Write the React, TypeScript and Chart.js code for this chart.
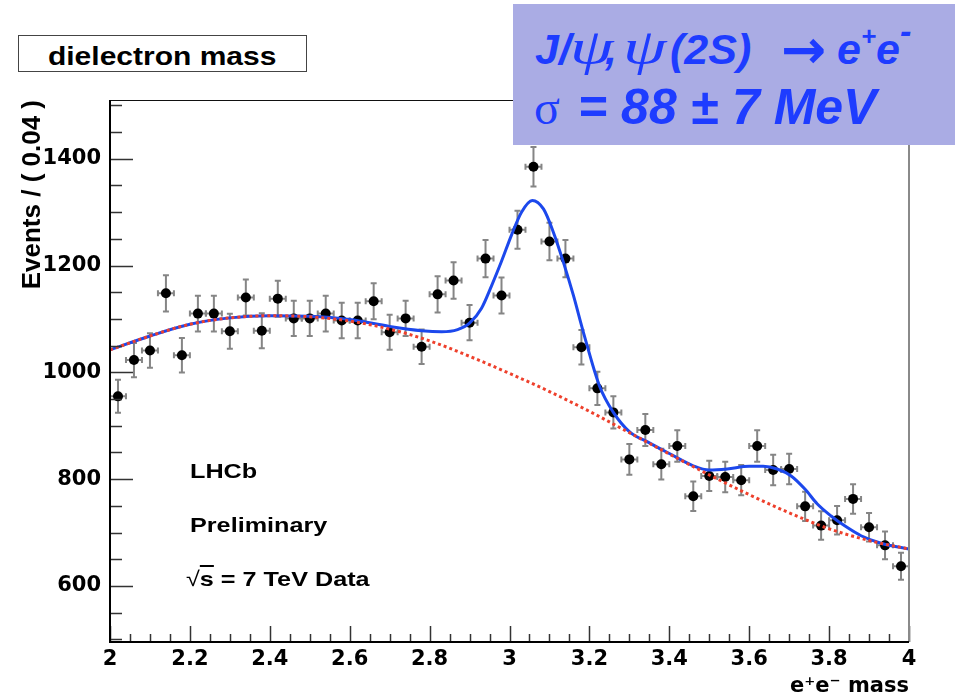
import React, { useEffect, useRef } from "react";
import { Chart, registerables } from "chart.js";

Chart.register(...registerables);

// ---- data ----
const binCenters = [
  2.02, 2.06, 2.1, 2.14, 2.18, 2.22, 2.26, 2.3, 2.34, 2.38,
  2.42, 2.46, 2.5, 2.54, 2.58, 2.62, 2.66, 2.7, 2.74, 2.78,
  2.82, 2.86, 2.9, 2.94, 2.98, 3.02, 3.06, 3.1, 3.14, 3.18,
  3.22, 3.26, 3.3, 3.34, 3.38, 3.42, 3.46, 3.5, 3.54, 3.58,
  3.62, 3.66, 3.7, 3.74, 3.78, 3.82, 3.86, 3.9, 3.94, 3.98,
];
const counts = [
  955, 1023, 1041, 1148, 1032, 1110, 1110, 1077, 1140, 1078,
  1138, 1101, 1101, 1110, 1097, 1097, 1133, 1075, 1101, 1048,
  1146, 1172, 1093, 1213, 1144, 1267, 1385, 1245, 1213, 1047,
  970, 925, 837, 892, 828, 862, 768, 806, 804, 798,
  862, 817, 819, 749, 713, 723, 763, 710, 676, 637,
];
const binHalfWidth = 0.02;

// total fit (signal + background)
const fitX = [
  2.0, 2.1, 2.2, 2.3, 2.4, 2.5, 2.6, 2.7, 2.78, 2.83, 2.87, 2.9,
  2.93, 2.955, 2.98, 3.005, 3.03, 3.057, 3.085, 3.11, 3.135, 3.16, 3.185,
  3.225, 3.26, 3.3, 3.35, 3.4, 3.46, 3.5, 3.545, 3.6, 3.635,
  3.67, 3.705, 3.74, 3.77, 3.805, 3.84, 3.88, 3.93, 4.0,
];
const fitY = [
  1042, 1068, 1090, 1102, 1106, 1105, 1099, 1086, 1078, 1076, 1080, 1092,
  1120, 1162, 1208, 1257, 1300, 1322, 1306, 1262, 1206, 1144, 1075,
  975, 925, 889, 868, 848, 825, 817, 819, 824, 824,
  819, 806, 781, 754, 731, 712, 694, 680, 669,
];

// background component
const bkgX = [
  2.0, 2.1, 2.2, 2.3, 2.4, 2.5, 2.6, 2.7, 2.8, 2.9, 3.0,
  3.1, 3.2, 3.3, 3.4, 3.5, 3.6, 3.7, 3.8, 3.9, 4.0,
];
const bkgY = [
  1042, 1068, 1090, 1102, 1106, 1104, 1096, 1081, 1059, 1030, 998,
  964, 927, 887, 847, 808, 771, 737, 707, 685, 669,
];

const xTickValues = [2, 2.2, 2.4, 2.6, 2.8, 3, 3.2, 3.4, 3.6, 3.8, 4];
const xTickLabels = ["2", "2.2", "2.4", "2.6", "2.8", "3", "3.2", "3.4", "3.6", "3.8", "4"];
const yTickValues = [600, 800, 1000, 1200, 1400];
const yTickLabels = ["600", "800", "1000", "1200", "1400"];

const X_MIN = 2;
const X_MAX = 4;
const Y_MIN = 495;
const Y_MAX = 1510;

const TICK_FONT = { family: "'DejaVu Sans', sans-serif", weight: "bold" as const, size: 21 };

const rootStyle = {
  id: "rootStyle",
  beforeDatasetsDraw(chart: any) {
    const { ctx, scales } = chart;
    const xs = scales.x;
    const ys = scales.y;
    ctx.save();
    ctx.strokeStyle = "#858585";
    ctx.lineWidth = 2;
    const cap = 3;
    for (let i = 0; i < counts.length; i++) {
      const err = Math.sqrt(counts[i]);
      const x = xs.getPixelForValue(binCenters[i]);
      const y = ys.getPixelForValue(counts[i]);
      const yt = ys.getPixelForValue(counts[i] + err);
      const yb = ys.getPixelForValue(counts[i] - err);
      const xl = xs.getPixelForValue(binCenters[i] - binHalfWidth);
      const xr = xs.getPixelForValue(binCenters[i] + binHalfWidth);
      ctx.beginPath();
      ctx.moveTo(x, yt);
      ctx.lineTo(x, yb);
      ctx.moveTo(x - cap, yt);
      ctx.lineTo(x + cap, yt);
      ctx.moveTo(x - cap, yb);
      ctx.lineTo(x + cap, yb);
      ctx.moveTo(xl, y);
      ctx.lineTo(xr, y);
      ctx.moveTo(xl, y - cap);
      ctx.lineTo(xl, y + cap);
      ctx.moveTo(xr, y - cap);
      ctx.lineTo(xr, y + cap);
      ctx.stroke();
    }
    ctx.restore();
  },
  afterDatasetsDraw(chart: any) {
    const { ctx, scales, chartArea } = chart;
    const xs = scales.x;
    const ys = scales.y;
    const { left, right, top, bottom } = chartArea;
    ctx.save();
    // ticks
    ctx.strokeStyle = "#333";
    ctx.lineWidth = 1.5;
    ctx.beginPath();
    for (let k = 0; k <= 40; k++) {
      const v = X_MIN + k * 0.05;
      const px = Math.round(xs.getPixelForValue(v)) + 0.5;
      const len = k % 4 === 0 ? 16 : 8;
      ctx.moveTo(px, bottom);
      ctx.lineTo(px, bottom - len);
    }
    for (let v = 500; v <= 1500; v += 50) {
      const py = Math.round(ys.getPixelForValue(v)) + 0.5;
      const len = v % 200 === 0 && v >= 600 && v <= 1400 ? 23 : 12;
      ctx.moveTo(left, py);
      ctx.lineTo(left + len, py);
    }
    ctx.stroke();
    // frame
    ctx.strokeStyle = "#111";
    ctx.lineWidth = 1.2;
    ctx.beginPath();
    ctx.moveTo(left, top + 0.5);
    ctx.lineTo(right, top + 0.5);
    ctx.stroke();
    ctx.strokeStyle = "#8a8a8a";
    ctx.lineWidth = 2;
    ctx.beginPath();
    ctx.moveTo(right, top);
    ctx.lineTo(right, bottom);
    ctx.stroke();
    ctx.strokeStyle = "#000";
    ctx.lineWidth = 2;
    ctx.beginPath();
    ctx.moveTo(left, top);
    ctx.lineTo(left, bottom);
    ctx.lineTo(right, bottom);
    ctx.stroke();
    ctx.restore();
  },
};

export default function App() {
  const ref = useRef<HTMLCanvasElement>(null);

  useEffect(() => {
    const canvas = ref.current;
    if (!canvas) return;
    const chart = new Chart(canvas, {
      type: "scatter",
      data: {
        datasets: [
          {
            label: "Background",
            type: "line",
            data: bkgX.map((x, i) => ({ x, y: bkgY[i] })),
            borderColor: "rgb(238, 64, 44)",
            borderWidth: 3,
            borderDash: [3, 3],
            pointRadius: 0,
            cubicInterpolationMode: "monotone",
            fill: false,
            order: 0,
          },
          {
            label: "Total fit",
            type: "line",
            data: fitX.map((x, i) => ({ x, y: fitY[i] })),
            borderColor: "rgb(28, 72, 236)",
            borderWidth: 3,
            pointRadius: 0,
            cubicInterpolationMode: "monotone",
            fill: false,
            order: 1,
          },
          {
            label: "Data",
            data: binCenters.map((x, i) => ({ x, y: counts[i] })),
            backgroundColor: "#000",
            borderColor: "#000",
            pointRadius: 5,
            pointBorderWidth: 0,
            showLine: false,
            order: 2,
          },
        ],
      } as any,
      options: {
        animation: false,
        responsive: false,
        maintainAspectRatio: false,
        layout: { padding: { left: 0, right: 46, top: 100, bottom: 0 } },
        plugins: { legend: { display: false }, tooltip: { enabled: false } },
        scales: {
          x: {
            type: "linear",
            min: X_MIN,
            max: X_MAX,
            grid: { display: false, drawTicks: false },
            border: { display: false },
            afterBuildTicks: (axis: any) => {
              axis.ticks = xTickValues.map((v) => ({ value: v }));
            },
            afterFit: (axis: any) => {
              axis.height = 55;
            },
            ticks: {
              autoSkip: false,
              maxRotation: 0,
              padding: 5,
              color: "#000",
              font: TICK_FONT,
              callback: (_v: any, i: number) => xTickLabels[i],
            },
            title: {
              display: true,
              text: "e\u207Ae\u207B mass",
              align: "end",
              color: "#000",
              padding: 0,
              font: { family: "'DejaVu Sans', sans-serif", weight: "bold", size: 21, lineHeight: 1 },
            },
          },
          y: {
            type: "linear",
            min: Y_MIN,
            max: Y_MAX,
            grid: { display: false, drawTicks: false },
            border: { display: false },
            afterBuildTicks: (axis: any) => {
              axis.ticks = yTickValues.map((v) => ({ value: v }));
            },
            afterFit: (axis: any) => {
              axis.width = 110;
            },
            ticks: {
              autoSkip: false,
              padding: 9,
              color: "#000",
              font: TICK_FONT,
              callback: (_v: any, i: number) => yTickLabels[i],
            },
            title: {
              display: true,
              text: "Events / ( 0.04 )",
              align: "end",
              color: "#000",
              padding: { top: 17, bottom: 0 },
              font: { family: "'Liberation Sans', Arial, sans-serif", weight: "bold", size: 26 },
            },
          },
        },
      } as any,
      plugins: [rootStyle],
    });
    return () => chart.destroy();
  }, []);

  const plotText: React.CSSProperties = {
    position: "absolute",
    font: "bold 21px 'Liberation Sans', Arial, sans-serif",
    lineHeight: "21px",
    color: "#000",
    whiteSpace: "nowrap",
    transform: "scaleX(1.2)",
    transformOrigin: "left center",
  };
  const serif = "'Liberation Serif', 'Times New Roman', serif";
  const blue = "#1e3cff";
  const sans = "'Liberation Sans', Arial, sans-serif";
  const boxText = (left: number, top: number, font: string, extra?: React.CSSProperties): React.CSSProperties => ({
    position: "absolute",
    left,
    top,
    font,
    lineHeight: "1",
    color: blue,
    whiteSpace: "nowrap",
    ...extra,
  });
  const psi: React.CSSProperties = { transform: "scaleX(1.4)", transformOrigin: "left center" };

  return (
    <div
      style={{
        position: "fixed",
        left: 0,
        top: 0,
        width: 955,
        height: 697,
        background: "#fff",
        overflow: "hidden",
      }}
    >
      <canvas ref={ref} width={955} height={697} style={{ position: "absolute", left: 0, top: 0 }} />

      {/* histogram title box */}
      <div
        style={{
          position: "absolute",
          left: 18,
          top: 35,
          width: 289,
          height: 37,
          boxSizing: "border-box",
          border: "1px solid #444",
          background: "#fff",
          paddingTop: 6,
          display: "flex",
          alignItems: "center",
          justifyContent: "center",
        }}
      >
        <span
          style={{
            font: `bold 25px ${sans}`,
            lineHeight: "25px",
            display: "inline-block",
            transform: "scaleX(1.2)",
            whiteSpace: "nowrap",
          }}
        >
          dielectron mass
        </span>
      </div>

      {/* LHCb labels */}
      <div style={{ ...plotText, left: 190, top: 460 }}>LHCb</div>
      <div style={{ ...plotText, left: 190, top: 514 }}>Preliminary</div>
      <div style={{ ...plotText, left: 186, top: 568 }}>
        <span style={{ fontWeight: "normal" }}>√</span>
        <span style={{ textDecoration: "overline" }}>s</span> = 7 TeV Data
      </div>

      {/* slide annotation box */}
      <div
        style={{
          position: "absolute",
          left: 513,
          top: 4,
          width: 442,
          height: 141,
          background: "#aaace4",
        }}
      />
      {/* line 1: J/ψ, ψ(2S) → e+e- (baseline at y = 64) */}
      <div style={boxText(535, 27.6, `italic bold 43px ${sans}`)}>J/</div>
      <div style={boxText(570, 22.1, `italic 50px ${serif}`, psi)}>ψ</div>
      <div style={boxText(605, 27.6, `italic bold 43px ${sans}`)}>,</div>
      <div style={boxText(623, 22.1, `italic 50px ${serif}`, psi)}>ψ</div>
      <div style={boxText(670, 27.6, `italic bold 43px ${sans}`)}>(2S)</div>
      <div style={boxText(781, 23.3, "bold 54px 'DejaVu Sans', sans-serif")}>→</div>
      <div style={boxText(837, 27.6, `italic bold 43px ${sans}`)}>
        e<span style={{ fontSize: "60%", lineHeight: 0, verticalAlign: "0.75em" }}>+</span>e
        <span style={{ fontSize: "80%", lineHeight: 0, verticalAlign: "0.6em" }}>-</span>
      </div>
      {/* line 2: σ = 88 ± 7 MeV (baseline at y = 124) */}
      <div style={boxText(534, 83.8, `48px ${serif}`)}>σ</div>
      <div style={boxText(578, 81.7, `italic bold 50px ${sans}`)}>= 88 ± 7 MeV</div>
    </div>
  );
}
